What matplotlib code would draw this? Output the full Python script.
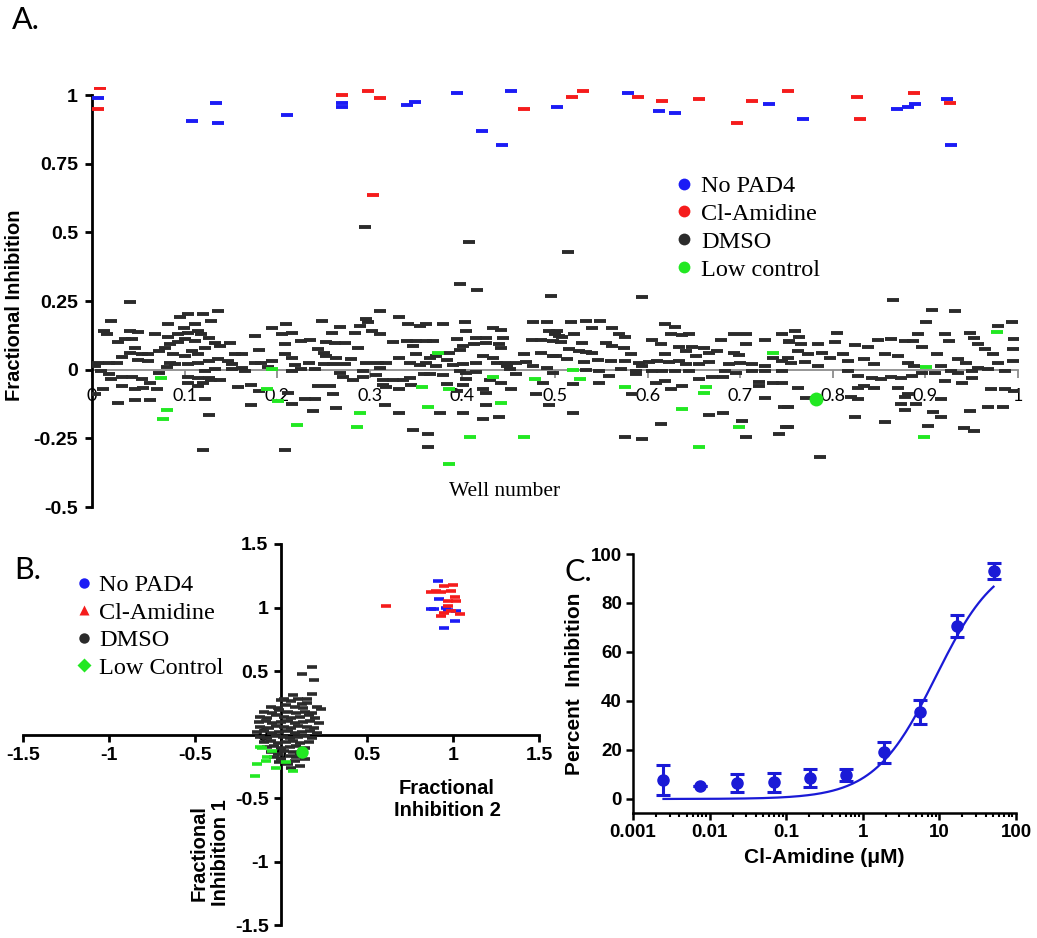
import numpy as np
import matplotlib
matplotlib.use("Agg")
import matplotlib.pyplot as plt
from matplotlib.lines import Line2D

plt.rcParams['font.family'] = ['Liberation Sans', 'DejaVu Sans']

BLUE = '#1c1cf5'
RED = '#f51c1c'
BLACK = '#2b2b2b'
GREEN = '#22e822'
CBLUE = '#1a1ad6'

# ---------------- panel A: well number vs fractional inhibition ----------------
a_nopad = [(0.007, 0.99), (0.108, 0.905), (0.134, 0.97), (0.136, 0.897), (0.211, 0.928),
           (0.27, 0.972), (0.27, 0.958), (0.34, 0.965), (0.349, 0.975), (0.394, 1.008),
           (0.421, 0.87), (0.443, 0.817), (0.452, 1.015), (0.502, 0.956), (0.579, 1.008),
           (0.612, 0.942), (0.63, 0.936), (0.731, 0.967), (0.768, 0.914), (0.869, 0.95),
           (0.881, 0.957), (0.889, 0.967), (0.923, 0.986), (0.928, 0.817)]
a_clam = [(0.009, 1.025), (0.007, 0.95), (0.27, 1.0), (0.298, 1.015), (0.311, 0.99),
          (0.303, 0.635), (0.466, 0.95), (0.518, 0.994), (0.53, 1.015), (0.59, 0.994),
          (0.616, 0.978), (0.655, 0.986), (0.697, 0.898), (0.713, 0.978), (0.752, 1.015),
          (0.826, 0.994), (0.829, 0.914), (0.888, 1.008), (0.927, 0.972)]
a_low = [(0.075, -0.029), (0.081, -0.145), (0.077, -0.181), (0.194, 0.001), (0.189, -0.072),
         (0.201, -0.114), (0.221, -0.203), (0.374, 0.062), (0.433, -0.027), (0.478, -0.035),
         (0.356, -0.063), (0.386, -0.072), (0.363, -0.136), (0.442, -0.123), (0.289, -0.157),
         (0.286, -0.209), (0.408, -0.246), (0.467, -0.246), (0.386, -0.343), (0.519, -0.002),
         (0.527, -0.033), (0.576, -0.062), (0.663, -0.062), (0.661, -0.086), (0.637, -0.144),
         (0.699, -0.209), (0.655, -0.282), (0.735, 0.062), (0.977, 0.137), (0.901, 0.010),
         (0.899, -0.246)]
a_low_big = [(0.782, -0.105)]
a_dmso = [
    # outliers
    (0.295, 0.518), (0.407, 0.465), (0.397, 0.311), (0.416, 0.29), (0.041, 0.248),
    (0.514, 0.428), (0.496, 0.268), (0.594, 0.263), (0.865, 0.255), (0.907, 0.217),
    (0.932, 0.212),
    # wells 0 - 0.25
    (0.021, 0.178), (0.013, 0.141), (0.016, 0.131), (0.041, 0.141), (0.050, 0.139),
    (0.028, 0.099), (0.036, 0.113), (0.043, 0.113), (0.046, 0.080), (0.041, 0.062),
    (0.032, 0.046), (0.027, 0.026), (0.018, 0.026), (0.007, 0.026), (0.003, 0.013),
    (0.010, -0.005), (0.018, -0.017), (0.021, -0.035), (0.032, -0.027), (0.043, -0.027),
    (0.054, -0.035), (0.063, -0.047), (0.046, -0.072), (0.032, -0.060), (0.012, -0.072),
    (0.003, -0.090), (0.028, -0.120), (0.046, -0.112), (0.063, -0.112), (0.070, -0.072),
    (0.055, -0.066), (0.072, -0.011), (0.081, 0.010), (0.084, 0.026), (0.061, 0.032),
    (0.050, 0.034), (0.054, 0.056), (0.061, 0.056), (0.072, 0.068), (0.079, 0.080),
    (0.088, 0.056), (0.084, 0.092), (0.093, 0.099), (0.100, 0.111), (0.111, 0.105),
    (0.104, 0.135), (0.099, 0.153), (0.095, 0.190), (0.104, 0.202), (0.120, 0.202),
    (0.136, 0.214), (0.129, 0.178), (0.111, 0.165), (0.082, 0.165), (0.068, 0.129),
    (0.082, 0.120), (0.093, 0.129), (0.115, 0.141), (0.118, 0.129), (0.126, 0.117),
    (0.133, 0.096), (0.149, 0.096), (0.138, 0.086), (0.122, 0.080), (0.115, 0.056),
    (0.108, 0.068), (0.100, 0.050), (0.090, 0.019), (0.104, 0.022), (0.115, 0.026),
    (0.126, 0.032), (0.136, 0.038), (0.147, 0.032), (0.154, 0.056), (0.162, 0.058),
    (0.151, 0.022), (0.162, 0.007), (0.165, -0.005), (0.151, 0.001), (0.133, 0.001),
    (0.122, -0.005), (0.104, -0.027), (0.115, -0.029), (0.126, -0.029), (0.138, -0.039),
    (0.129, -0.039), (0.120, -0.047), (0.104, -0.047), (0.115, -0.060), (0.122, -0.107),
    (0.126, -0.165), (0.120, -0.291), (0.158, -0.063), (0.172, -0.054), (0.180, -0.078),
    (0.172, -0.130), (0.190, 0.010), (0.183, 0.026), (0.176, 0.026), (0.194, 0.032),
    (0.180, 0.071), (0.176, 0.123), (0.194, 0.151), (0.210, 0.165), (0.205, 0.129),
    (0.216, 0.135), (0.208, 0.092), (0.226, 0.105), (0.208, 0.056), (0.216, 0.044),
    (0.219, 0.017), (0.234, 0.026), (0.226, 0.001), (0.216, -0.005), (0.241, 0.001),
    (0.212, -0.084), (0.230, -0.108), (0.241, -0.108), (0.216, -0.124), (0.239, -0.151),
    (0.235, 0.107), (0.244, 0.074), (0.248, 0.178), (0.253, 0.099), (0.253, 0.050),
    (0.244, -0.060), (0.208, -0.291),
    # wells 0.25 - 0.5
    (0.311, 0.214), (0.332, 0.193), (0.296, 0.183), (0.289, 0.159), (0.298, 0.172),
    (0.268, 0.157), (0.259, 0.135), (0.284, 0.135), (0.302, 0.141), (0.311, 0.129),
    (0.262, 0.096), (0.273, 0.096), (0.287, 0.078), (0.251, 0.062), (0.264, 0.044),
    (0.280, 0.040), (0.250, 0.022), (0.260, 0.022), (0.273, 0.019), (0.296, 0.026),
    (0.309, 0.026), (0.318, 0.026), (0.311, 0.005), (0.293, -0.005), (0.268, -0.011),
    (0.271, -0.027), (0.282, -0.039), (0.293, -0.027), (0.307, -0.019), (0.314, -0.039),
    (0.325, -0.039), (0.314, -0.054), (0.336, -0.039), (0.343, -0.029), (0.332, 0.044),
    (0.343, 0.026), (0.350, 0.056), (0.340, 0.105), (0.350, 0.105), (0.361, 0.105),
    (0.368, 0.105), (0.347, 0.086), (0.325, 0.099), (0.341, 0.165), (0.354, 0.159),
    (0.361, 0.165), (0.379, 0.165), (0.403, 0.172), (0.404, 0.141), (0.415, 0.117),
    (0.426, 0.117), (0.394, 0.111), (0.412, 0.095), (0.426, 0.096), (0.397, 0.071),
    (0.401, 0.086), (0.385, 0.062), (0.372, 0.050), (0.365, 0.044), (0.383, 0.035),
    (0.361, 0.026), (0.354, 0.017), (0.372, 0.013), (0.390, 0.017), (0.401, 0.022),
    (0.397, -0.005), (0.404, -0.011), (0.415, -0.007), (0.415, 0.026), (0.422, 0.050),
    (0.433, 0.044), (0.437, 0.026), (0.446, 0.026), (0.448, 0.013), (0.458, 0.026),
    (0.469, 0.029), (0.433, 0.153), (0.442, 0.144), (0.444, 0.117), (0.440, 0.092),
    (0.442, 0.080), (0.476, 0.172), (0.491, 0.172), (0.475, 0.107), (0.485, 0.107),
    (0.498, 0.105), (0.494, 0.141), (0.500, 0.129), (0.485, 0.062), (0.498, 0.050),
    (0.467, 0.056), (0.476, 0.013), (0.491, 0.005), (0.498, -0.011), (0.451, 0.001),
    (0.458, -0.015), (0.442, -0.047), (0.453, -0.072), (0.430, -0.039), (0.422, -0.072),
    (0.404, -0.035), (0.401, -0.056), (0.383, -0.051), (0.394, -0.078), (0.365, -0.017),
    (0.379, -0.019), (0.358, -0.017), (0.345, -0.054), (0.318, -0.063), (0.332, -0.072),
    (0.260, -0.090), (0.257, -0.060), (0.264, -0.139), (0.316, -0.127), (0.332, -0.157),
    (0.376, -0.157), (0.401, -0.157), (0.426, -0.127), (0.422, -0.179), (0.440, -0.172),
    (0.426, -0.084), (0.480, -0.090), (0.487, -0.047), (0.494, -0.127), (0.347, -0.218),
    (0.363, -0.234), (0.363, -0.282),
    # wells 0.5 - 0.75
    (0.517, 0.172), (0.533, 0.178), (0.549, 0.178), (0.540, 0.150), (0.562, 0.150),
    (0.502, 0.141), (0.504, 0.123), (0.508, 0.119), (0.520, 0.129), (0.569, 0.129),
    (0.576, 0.119), (0.619, 0.165), (0.630, 0.157), (0.625, 0.129), (0.637, 0.125),
    (0.645, 0.129), (0.605, 0.107), (0.506, 0.099), (0.529, 0.096), (0.555, 0.096),
    (0.562, 0.086), (0.515, 0.074), (0.533, 0.064), (0.540, 0.062), (0.526, 0.068),
    (0.574, 0.078), (0.582, 0.056), (0.614, 0.092), (0.619, 0.056), (0.634, 0.083),
    (0.648, 0.083), (0.661, 0.080), (0.679, 0.107), (0.693, 0.129), (0.706, 0.131),
    (0.706, 0.092), (0.727, 0.107), (0.745, 0.131), (0.753, 0.105), (0.675, 0.068),
    (0.693, 0.062), (0.699, 0.054), (0.641, 0.068), (0.666, 0.062), (0.652, 0.050),
    (0.501, 0.050), (0.513, 0.038), (0.531, 0.029), (0.546, 0.034), (0.560, 0.032),
    (0.576, 0.032), (0.591, 0.026), (0.601, 0.029), (0.610, 0.032), (0.623, 0.029),
    (0.634, 0.032), (0.641, 0.022), (0.655, 0.019), (0.666, 0.029), (0.688, 0.019),
    (0.700, 0.026), (0.713, 0.022), (0.735, 0.044), (0.745, 0.032), (0.727, 0.013),
    (0.533, -0.002), (0.547, -0.005), (0.558, -0.023), (0.571, 0.001), (0.587, -0.005),
    (0.594, 0.013), (0.605, -0.005), (0.616, -0.005), (0.630, -0.005), (0.645, -0.005),
    (0.655, -0.035), (0.670, -0.027), (0.681, -0.027), (0.684, -0.005), (0.695, -0.011),
    (0.713, -0.005), (0.727, -0.005), (0.745, -0.005), (0.720, -0.044), (0.735, -0.047),
    (0.745, -0.047), (0.720, -0.060), (0.609, -0.047), (0.619, -0.041), (0.625, -0.072),
    (0.637, -0.060), (0.587, -0.017), (0.547, -0.047), (0.519, -0.051), (0.583, -0.090),
    (0.727, -0.102), (0.747, -0.136), (0.666, -0.165), (0.681, -0.157), (0.519, -0.157),
    (0.614, -0.197), (0.702, -0.187), (0.706, -0.246), (0.749, -0.209), (0.742, -0.234),
    (0.576, -0.246), (0.594, -0.254),
    # wells 0.75 - 1
    (0.901, 0.172), (0.993, 0.172), (0.759, 0.141), (0.804, 0.135), (0.764, 0.120),
    (0.753, 0.099), (0.766, 0.092), (0.784, 0.095), (0.802, 0.099), (0.824, 0.091),
    (0.838, 0.083), (0.849, 0.107), (0.863, 0.111), (0.878, 0.105), (0.892, 0.129),
    (0.887, 0.105), (0.896, 0.083), (0.921, 0.129), (0.926, 0.105), (0.948, 0.135),
    (0.953, 0.117), (0.957, 0.092), (0.978, 0.159), (0.996, 0.111), (0.964, 0.074),
    (0.973, 0.056), (0.995, 0.074), (0.995, 0.032), (0.978, 0.026), (0.762, 0.068),
    (0.773, 0.056), (0.788, 0.062), (0.797, 0.044), (0.811, 0.056), (0.816, 0.032),
    (0.834, 0.038), (0.856, 0.056), (0.870, 0.050), (0.881, 0.026), (0.888, 0.013),
    (0.912, 0.058), (0.917, 0.013), (0.935, 0.038), (0.944, 0.026), (0.957, 0.007),
    (0.752, 0.044), (0.755, 0.026), (0.770, 0.029), (0.784, 0.013), (0.845, 0.019),
    (0.816, -0.005), (0.827, -0.023), (0.842, -0.032), (0.852, -0.035), (0.834, -0.060),
    (0.827, -0.066), (0.845, -0.066), (0.863, -0.027), (0.874, -0.032), (0.885, -0.023),
    (0.896, -0.011), (0.910, -0.011), (0.928, -0.005), (0.935, -0.011), (0.950, -0.005),
    (0.968, 0.001), (0.986, -0.005), (0.921, -0.041), (0.939, -0.047), (0.950, -0.032),
    (0.971, -0.072), (0.986, -0.072), (0.996, -0.078), (0.870, -0.066), (0.881, -0.090),
    (0.878, -0.101), (0.874, -0.126), (0.878, -0.145), (0.890, -0.126), (0.917, -0.108),
    (0.908, -0.153), (0.917, -0.172), (0.948, -0.151), (0.968, -0.136), (0.984, -0.136),
    (0.762, -0.066), (0.752, -0.136), (0.820, -0.100), (0.827, -0.108), (0.824, -0.172),
    (0.856, -0.191), (0.903, -0.206), (0.942, -0.212), (0.953, -0.224), (0.752, -0.209),
    (0.786, -0.319), (0.771, -0.103),
]
a_xticks = [0, 0.1, 0.2, 0.3, 0.4, 0.5, 0.6, 0.7, 0.8, 0.9, 1]
a_xticklabels = ['0', '0.1', '0.2', '0.3', '0.4', '0.5', '0.6', '0.7', '0.8', '0.9', '1']
a_yticks = [-0.5, -0.25, 0, 0.25, 0.5, 0.75, 1]
a_yticklabels = ['-0.5', '-0.25', '0', '0.25', '0.5', '0.75', '1']

# ---------------- panel B: replicate 2 vs replicate 1 ----------------
b_nopad = [(0.91, 1.21), (0.89, 0.99), (0.97, 0.98), (1.02, 0.97), (1.01, 0.89),
           (0.95, 0.84), (0.92, 1.07), (0.87, 0.99), (0.96, 1.00)]
b_clam = [(0.61, 1.01), (0.87, 1.12), (0.93, 1.12), (0.99, 1.13), (1.00, 1.18),
          (0.95, 1.17), (0.97, 1.05), (1.02, 1.05), (0.99, 0.97), (0.95, 0.96),
          (0.93, 0.93), (1.04, 0.95), (0.97, 1.01), (1.01, 1.08), (0.90, 1.13)]
b_low = [(-0.15, -0.33), (-0.11, -0.11), (-0.05, -0.13), (-0.09, -0.21), (0.03, -0.22),
         (-0.03, -0.26), (0.07, -0.29), (-0.14, -0.23), (-0.08, -0.18), (-0.12, -0.10)]
b_low_big = [(0.12, -0.14)]
b_dmso = [
    (0.18, 0.53), (0.12, 0.48), (0.19, 0.43), (0.07, 0.31), (0.18, 0.32), (0.02, 0.28),
    (0.15, 0.28), (0.23, 0.20), (0.12, 0.24),
    (0.00, 0.27), (0.06, 0.26), (0.10, 0.28), (0.15, 0.25),
    (-0.06, 0.22), (-0.02, 0.21), (0.03, 0.23), (0.08, 0.22), (0.13, 0.21), (0.21, 0.22),
    (-0.10, 0.18), (-0.05, 0.17), (-0.01, 0.19), (0.04, 0.18), (0.09, 0.17), (0.14, 0.18),
    (0.18, 0.17),
    (-0.12, 0.14), (-0.08, 0.13), (-0.03, 0.15), (0.02, 0.14), (0.06, 0.13), (0.11, 0.14),
    (0.16, 0.15), (0.20, 0.13),
    (-0.13, 0.10), (-0.09, 0.11), (-0.05, 0.09), (0.00, 0.10), (0.04, 0.11), (0.08, 0.09),
    (0.13, 0.10), (0.17, 0.11), (0.22, 0.09),
    (-0.12, 0.06), (-0.07, 0.05), (-0.03, 0.07), (0.02, 0.06), (0.06, 0.05), (0.10, 0.07),
    (0.15, 0.06), (0.19, 0.05),
    (-0.14, 0.02), (-0.10, 0.03), (-0.05, 0.01), (-0.01, 0.02), (0.04, 0.03), (0.08, 0.01),
    (0.12, 0.02), (0.17, 0.03), (0.21, 0.01),
    (-0.12, -0.02), (-0.08, -0.03), (-0.03, -0.01), (0.01, -0.02), (0.05, -0.03),
    (0.10, -0.02), (0.14, -0.01), (0.18, -0.03),
    (-0.10, -0.06), (-0.06, -0.05), (-0.02, -0.07), (0.03, -0.06), (0.07, -0.05),
    (0.11, -0.07), (0.16, -0.06),
    (-0.08, -0.10), (-0.04, -0.09), (0.00, -0.11), (0.05, -0.10), (0.09, -0.09),
    (0.14, -0.11),
    (-0.06, -0.14), (-0.02, -0.15), (0.02, -0.13), (0.07, -0.14), (0.11, -0.15),
    (-0.04, -0.18), (0.00, -0.19), (0.05, -0.17), (0.09, -0.18), (0.14, -0.19),
    (-0.01, -0.22), (0.04, -0.23), (0.08, -0.21), (0.06, -0.26), (0.11, -0.25),
]
b_ticks = [-1.5, -1, -0.5, 0, 0.5, 1, 1.5]
b_ticklabels = ['-1.5', '-1', '-0.5', '0', '0.5', '1', '1.5']

# ---------------- panel C: dose response ----------------
c_conc = [0.0025, 0.0076, 0.023, 0.070, 0.206, 0.61, 1.88, 5.6, 16.9, 50.9]
c_pct = [7.9, 5.2, 6.5, 6.8, 8.6, 9.7, 19.0, 35.4, 70.7, 92.9]
c_err = [6.1, 0.0, 3.7, 3.8, 3.7, 2.4, 4.3, 4.9, 4.6, 3.3]
c_ic50 = 9.0
c_hill = 1.08
c_top = 100.0
c_bottom = 0.0
c_xticks = [0.001, 0.01, 0.1, 1, 10, 100]
c_xticklabels = ['0.001', '0.01', '0.1', '1', '10', '100']
c_yticks = [0, 20, 40, 60, 80, 100]

W, H = 1037, 938
fig = plt.figure(figsize=(W / 100, H / 100), dpi=100)


def px_axes(left, top, right, bottom):
    return fig.add_axes([left / W, 1 - bottom / H, (right - left) / W, (bottom - top) / H])


def dashes(ax, pts, color, ms, mew, z=3):
    xs = [p[0] for p in pts]
    ys = [p[1] for p in pts]
    ax.plot(xs, ys, ls='none', marker='_', ms=ms, mew=mew, color=color, zorder=z)


# panel A
ax_a = px_axes(92, 86.8, 1018, 507)
ax_a.set_xlim(0, 1)
ax_a.set_ylim(-0.5, 1.03)
dashes(ax_a, a_dmso, BLACK, 9, 2.8)
dashes(ax_a, a_low, GREEN, 9, 2.8, 4)
dashes(ax_a, a_nopad, BLUE, 9, 2.8, 4)
dashes(ax_a, a_clam, RED, 9, 2.8, 4)
ax_a.plot([p[0] for p in a_low_big], [p[1] for p in a_low_big], ls='none', marker='o',
          ms=10, color=GREEN, mec='none', zorder=5)
for s in ['top', 'right']:
    ax_a.spines[s].set_visible(False)
ax_a.spines['bottom'].set_position(('data', 0))
ax_a.spines['bottom'].set_color('#8c8c8c')
ax_a.spines['bottom'].set_linewidth(1.3)
ax_a.spines['bottom'].set_zorder(2)
ax_a.spines['left'].set_linewidth(2)
ax_a.spines['left'].set_bounds(-0.5, 1)
ax_a.set_xticks(a_xticks)
ax_a.set_xticklabels(a_xticklabels, fontfamily='Lato', fontsize=13)
ax_a.set_yticks(a_yticks)
ax_a.set_yticklabels(a_yticklabels, fontweight='bold', fontsize=14)
ax_a.tick_params(axis='x', direction='out', length=6, width=1.3, color='#8c8c8c', pad=7)
ax_a.tick_params(axis='y', direction='out', length=5, width=2, pad=5)
ax_a.set_ylabel('Fractional Inhibition', fontweight='bold', fontsize=14.5)
ax_a.yaxis.set_label_coords(-0.073, 0.48)
ax_a.text(0.446, 0.036, 'Well number', transform=ax_a.transAxes, ha='center', va='center',
          fontfamily='Liberation Serif', fontsize=15.5)
leg_a = [Line2D([], [], ls='none', marker='o', ms=8.5, color=c, mec='none')
         for c in [BLUE, RED, BLACK, GREEN]]
ax_a.legend(leg_a, ['No PAD4', 'Cl-Amidine', 'DMSO', 'Low control'], loc='upper left',
            bbox_to_anchor=(0.63, 0.79), frameon=False, handlelength=0.7,
            handletextpad=0.35, labelspacing=0.24, borderaxespad=0, borderpad=0,
            prop={'family': 'Liberation Serif', 'size': 17.5})

# panel B
ax_b = px_axes(23, 544, 539, 925)
ax_b.set_xlim(-1.5, 1.5)
ax_b.set_ylim(-1.5, 1.5)
dashes(ax_b, b_dmso, BLACK, 7, 2.6)
dashes(ax_b, b_low, GREEN, 7, 2.6, 4)
dashes(ax_b, b_nopad, BLUE, 7, 2.6, 4)
dashes(ax_b, b_clam, RED, 7, 2.6, 4)
ax_b.plot([p[0] for p in b_low_big], [p[1] for p in b_low_big], ls='none', marker='o',
          ms=9, color=GREEN, mec='none', zorder=5)
for s in ['top', 'right']:
    ax_b.spines[s].set_visible(False)
for s in ['left', 'bottom']:
    ax_b.spines[s].set_position(('data', 0))
    ax_b.spines[s].set_linewidth(2)
ax_b.set_xticks(b_ticks)
ax_b.set_xticklabels(b_ticklabels, fontweight='bold', fontsize=14)
ax_b.set_yticks(b_ticks)
ax_b.set_yticklabels(b_ticklabels, fontweight='bold', fontsize=14)
ax_b.tick_params(direction='out', length=5, width=2, pad=4)
fig.text(447 / W, 1 - 800 / H, 'Fractional\nInhibition 2', ha='center', va='center',
         fontweight='bold', fontsize=14.5, multialignment='center')
fig.text(210 / W, 1 - 853 / H, 'Fractional\nInhibition 1', ha='center', va='center',
         rotation=90, fontweight='bold', fontsize=14.5, multialignment='center')
leg_b = [Line2D([], [], ls='none', marker=m, ms=7.5, color=c, mec='none')
         for m, c in zip(['o', '^', 'o', 'D'], [BLUE, RED, BLACK, GREEN])]
ax_b.legend(leg_b, ['No PAD4', 'Cl-Amidine', 'DMSO', 'Low Control'], loc='upper left',
            bbox_to_anchor=(0.105, 0.92), frameon=False, handlelength=0.6,
            handletextpad=0.3, labelspacing=0.22, borderaxespad=0, borderpad=0,
            prop={'family': 'Liberation Serif', 'size': 17.5})

# panel C
ax_c = px_axes(633, 554, 1016, 812.7)
ax_c.set_xscale('log')
ax_c.set_xlim(0.001, 100)
ax_c.set_ylim(-5.6, 100)
xfit = np.logspace(np.log10(c_conc[0]), np.log10(c_conc[-1]), 200)
yfit = c_bottom + (c_top - c_bottom) / (1 + (c_ic50 / xfit) ** c_hill)
ax_c.plot(xfit, yfit, color=CBLUE, lw=1.6)
ax_c.errorbar(c_conc, c_pct, yerr=c_err, ls='none', marker='o', ms=8, color=CBLUE,
              ecolor=CBLUE, elinewidth=2.2, capsize=5, capthick=2.2)
for s in ['top', 'right']:
    ax_c.spines[s].set_visible(False)
for s in ['left', 'bottom']:
    ax_c.spines[s].set_linewidth(1.8)
ax_c.spines['left'].set_bounds(-5.6, 100)
ax_c.set_xticks(c_xticks)
ax_c.set_xticklabels(c_xticklabels, fontweight='bold', fontsize=13.5)
ax_c.set_yticks(c_yticks)
ax_c.set_yticklabels([str(v) for v in c_yticks], fontweight='bold', fontsize=13.5)
ax_c.tick_params(which='major', direction='out', length=5, width=1.8, pad=3)
ax_c.tick_params(which='minor', direction='out', length=3, width=1.5)
ax_c.set_xlabel('Cl-Amidine (\u03bcM)', fontweight='bold', fontsize=15, labelpad=5)
ax_c.set_ylabel('Percent  Inhibition', fontweight='bold', fontsize=15, labelpad=5)

# panel letters
fig.text(12 / W, 1 - 20 / H, 'A.', fontfamily='Lato', fontsize=22, va='center')
fig.text(14 / W, 1 - 570 / H, 'B.', fontfamily='Lato', fontsize=22, va='center')
fig.text(564 / W, 1 - 572 / H, 'C.', fontfamily='Lato', fontsize=22, va='center')

fig.savefig('out.png', dpi=100)
